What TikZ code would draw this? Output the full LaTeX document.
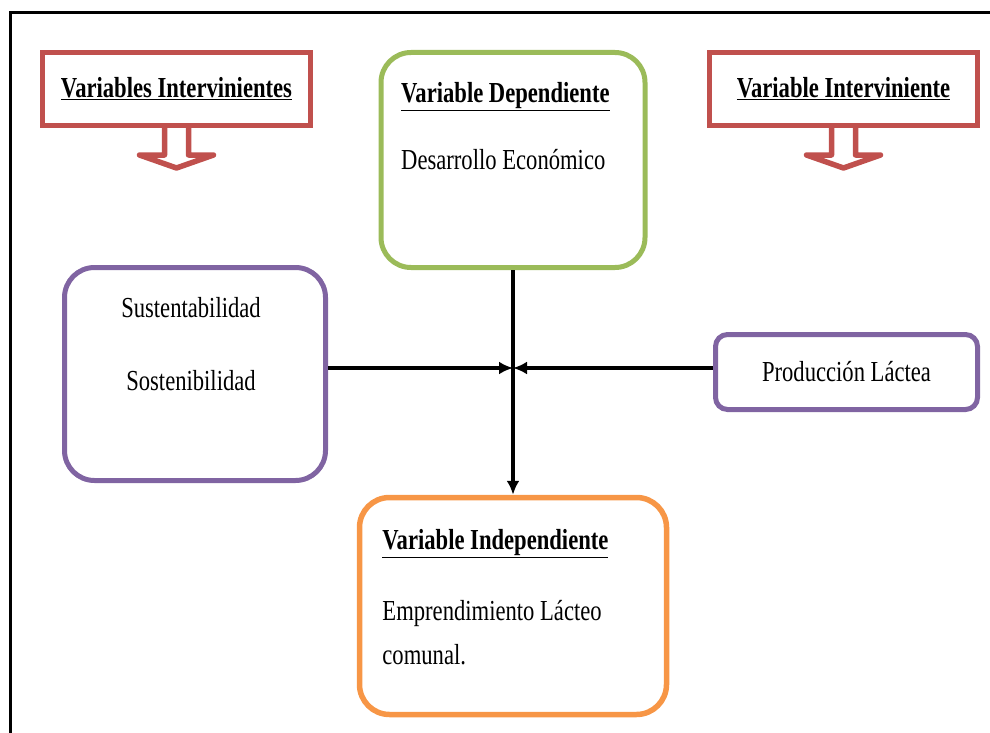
\documentclass[tikz,border=0pt]{standalone}
\usepackage{fontspec}
\setmainfont{Liberation Serif}[FakeStretch=0.78]
\usetikzlibrary{positioning, arrows.meta}
\definecolor{redline}{HTML}{C0504D}
\definecolor{greenline}{HTML}{9BBB59}
\definecolor{purpleline}{HTML}{8064A2}
\definecolor{orangeline}{HTML}{F79646}
\tikzstyle{txt} = [inner sep=0pt, font=\fontsize{29}{44}\selectfont]
\tikzstyle{head} = [inner sep=0pt, font=\fontsize{29}{44}\selectfont\bfseries]
\tikzstyle{intbox} = [rectangle, minimum width=268pt, minimum height=73pt, draw=redline, line width=5pt, font=\fontsize{29}{44}\selectfont\bfseries]
\tikzstyle{depbox} = [rectangle, rounded corners=30pt, minimum width=264pt, minimum height=215pt, draw=greenline, line width=5pt]
\tikzstyle{indbox} = [rectangle, rounded corners=30pt, minimum width=307pt, minimum height=217pt, draw=orangeline, line width=5.5pt]
\tikzstyle{sidebox} = [rectangle, rounded corners=30pt, minimum width=261pt, minimum height=213pt, draw=purpleline, line width=5pt]
\tikzstyle{prodbox} = [rectangle, rounded corners=12pt, minimum width=262pt, minimum height=75pt, draw=purpleline, line width=5pt, font=\fontsize{29}{44}\selectfont]
\tikzstyle{hollow} = [draw=redline, line width=5.5pt, line join=round]
\tikzstyle{arrow} = [line width=3.2pt, -{Latex[length=14pt, width=13pt]}]

\begin{document}
\begin{tikzpicture}[x=1pt, y=1pt]
\useasboundingbox (0,0) rectangle (990,-733);
\draw [line width=3pt] (10,-733) -- (10,-13) -- (990,-13);
\draw [hollow] (164.5,-125.5) -- ++(0,-29.5) -- ++(-25,0) -- ++(37,-13) -- ++(37,13) -- ++(-25,0) -- ++(0,29.5);
\draw [hollow] (831.5,-125.5) -- ++(0,-29.5) -- ++(-25,0) -- ++(37,-13) -- ++(37,13) -- ++(-25,0) -- ++(0,29.5);
\node (varL) [intbox] at (176.5,-89) {\underline{Variables Intervinientes}};
\node (varR) [intbox] at (843.5,-89) {\underline{Variable Interviniente}};
\node (dep) [depbox] at (513,-160) {};
\node (depT) [head, anchor=base west] at ([shift={(22.5,-52.5)}]dep.north west) {\underline{Variable Dependiente}};
\node (depD) [txt, anchor=base west] at ([yshift=-67pt]depT.base west) {Desarrollo Económico};
\node (ind) [indbox] at (513,-606) {};
\node (indT) [head, anchor=base west] at ([shift={(25.5,-54.5)}]ind.north west) {\underline{Variable Independiente}};
\node (indD) [txt, anchor=base west] at ([yshift=-71pt]indT.base west) {Emprendimiento Lácteo};
\node (indE) [txt, anchor=base west] at ([yshift=-44pt]indD.base west) {comunal.};
\node (sust) [sidebox] at (195,-374) {};
\node (sustA) [txt, anchor=base] at ([shift={(-4,-52.5)}]sust.north) {Sustentabilidad};
\node (sustB) [txt, anchor=base] at ([yshift=-73pt]sustA.base) {Sostenibilidad};
\node (prod) [prodbox] at (846.5,-372) {Producción Láctea};
\coordinate (mid) at ([yshift=4pt]prod.west -| dep.south);
\draw [arrow] (dep.south) -- (ind.north);
\draw [arrow] (sust.east |- mid) -- (mid);
\draw [arrow] (prod.west |- mid) -- (mid);
\end{tikzpicture}
\end{document}
